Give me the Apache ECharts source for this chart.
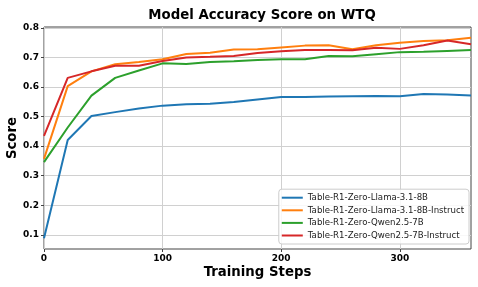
<!DOCTYPE html>
<html><head><meta charset="utf-8">
<script src="https://cdn.jsdelivr.net/npm/echarts@6/dist/echarts.min.js"></script>
<style>html,body{margin:0;padding:0;background:#fff}#c{width:478px;height:287px}</style>
</head><body><div id="c"></div>
<script>
const steps = [0,20,40,60,80,100,120,140,160,180,200,220,240,260,280,300,320,340,360];
const names = ['Table-R1-Zero-Llama-3.1-8B','Table-R1-Zero-Llama-3.1-8B-Instruct','Table-R1-Zero-Qwen2.5-7B','Table-R1-Zero-Qwen2.5-7B-Instruct'];
const llama = [0.088,0.421,0.502,0.515,0.527,0.537,0.542,0.543,0.549,0.558,0.566,0.566,0.568,0.569,0.570,0.569,0.576,0.575,0.571];
const llamaInstruct = [0.357,0.603,0.653,0.677,0.685,0.694,0.712,0.716,0.727,0.728,0.734,0.740,0.741,0.728,0.741,0.750,0.756,0.758,0.767];
const qwen = [0.346,0.463,0.571,0.631,0.656,0.680,0.678,0.685,0.687,0.691,0.694,0.694,0.705,0.704,0.711,0.718,0.719,0.722,0.725];
const qwenInstruct = [0.435,0.631,0.653,0.672,0.672,0.688,0.700,0.702,0.705,0.715,0.721,0.725,0.725,0.724,0.733,0.729,0.741,0.757,0.745];
const xTicks = [0,100,200,300];
const yTicks = [0.1,0.2,0.3,0.4,0.5,0.6,0.7,0.8];
const colors = ['#1f77b4','#ff7f0e','#2ca02c','#d62728'];
const allSeries = [llama, llamaInstruct, qwen, qwenInstruct];

const chart = echarts.init(document.getElementById('c'), null, {renderer:'canvas'});
const font = 'DejaVu Sans';
chart.setOption({
  animation:false,
  color: colors,
  title:{text:'Model Accuracy Score on WTQ', left:257, top:4, textAlign:'center',
    textStyle:{fontFamily:font, fontWeight:'bold', fontSize:13.3, color:'#000'}},
  grid:{left:44, right:7, top:27, bottom:38, containLabel:false, outerBoundsMode:'none',
    show:true, borderColor:'#444', borderWidth:1, backgroundColor:'transparent'},
  xAxis:{type:'value', min:0, max:360,
    name:'Training Steps', nameLocation:'middle', nameGap:17.5, nameMoveOverlap:false,
    nameTextStyle:{fontFamily:font, fontWeight:'bold', fontSize:13.3, color:'#000'},
    axisLine:{show:false},
    axisTick:{show:true, length:3, lineStyle:{color:'#444'}, customValues:xTicks},
    axisLabel:{fontFamily:font, fontWeight:'bold', fontSize:9, color:'#000', margin:5, customValues:xTicks},
    splitLine:{show:true, lineStyle:{color:'#d0d0d0', width:1}}
  },
  yAxis:{type:'value', min:0.052, max:0.803,
    name:'Score', nameLocation:'middle', nameGap:25, nameMoveOverlap:false,
    nameTextStyle:{fontFamily:font, fontWeight:'bold', fontSize:13.3, color:'#000'},
    axisLine:{show:false},
    axisTick:{show:true, length:3, lineStyle:{color:'#444'}, customValues:yTicks},
    axisLabel:{fontFamily:font, fontWeight:'bold', fontSize:9, color:'#000', margin:5, customValues:yTicks,
      formatter:v=>v.toFixed(1)},
    splitLine:{show:true, lineStyle:{color:'#d0d0d0', width:1}}
  },
  legend:{orient:'vertical', right:9, bottom:43, data:names,
    backgroundColor:'rgba(255,255,255,0.85)', borderColor:'#ccc', borderWidth:1, borderRadius:3,
    padding:[4,5,4,3], itemGap:3.6, itemWidth:21, itemHeight:2, icon:'rect',
    textStyle:{fontFamily:font, fontSize:8.6, color:'#222', padding:[0,0,0,0]}},
  series: allSeries.map((vals,i)=>({
    name:names[i], type:'line', showSymbol:false, smooth:false,
    lineStyle:{width:2, color:colors[i]}, itemStyle:{color:colors[i]},
    data: steps.map((s,j)=>[s, vals[j]])
  }))
});
</script></body></html>
